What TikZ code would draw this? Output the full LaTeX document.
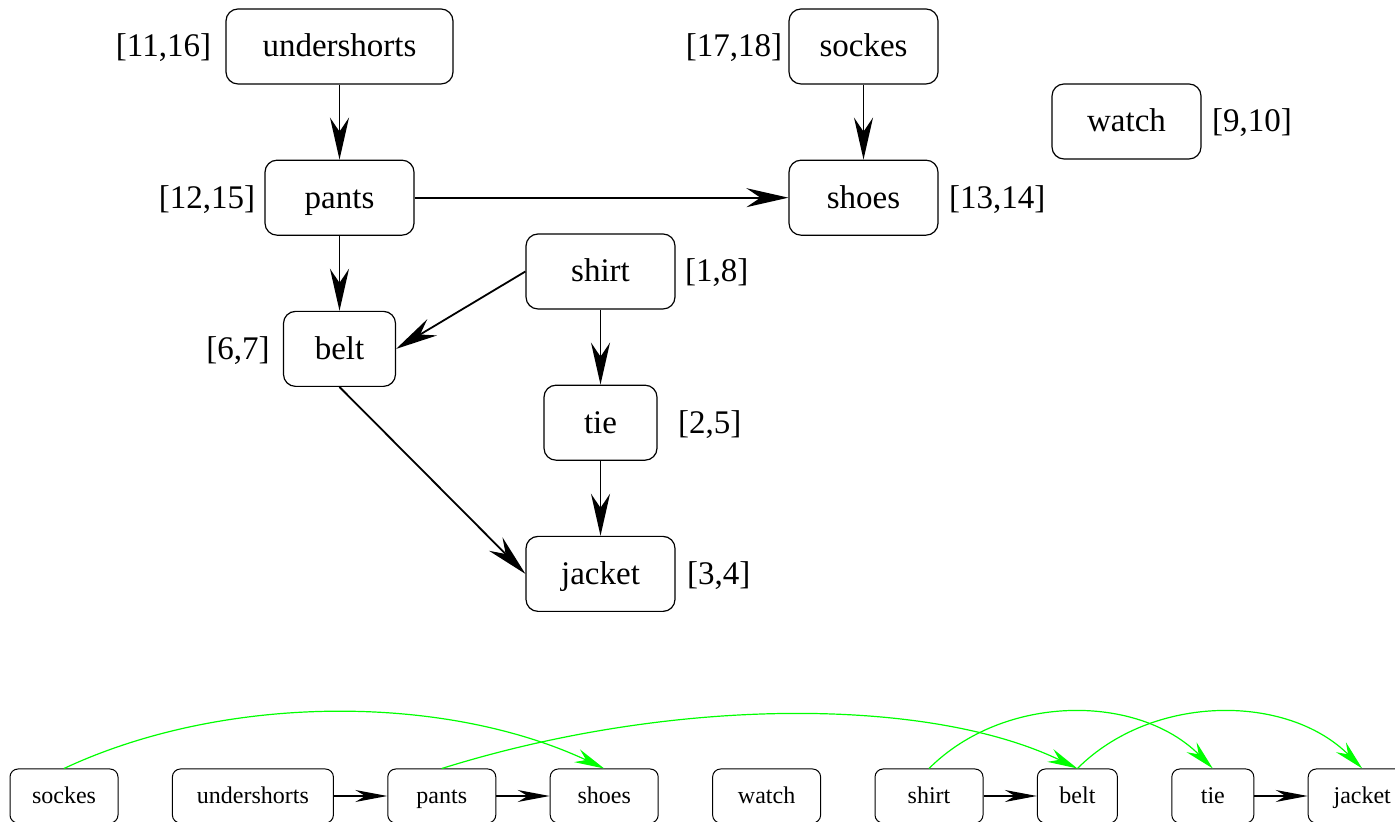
\documentclass[tikz,border=0pt]{standalone}
\usepackage{fontspec}
\setmainfont{Liberation Serif}
\usetikzlibrary{positioning,arrows.meta}

\tikzset{
  task/.style={draw,rounded corners=6pt,line width=0.6pt,inner sep=0pt,
    minimum width=74.5pt,minimum height=37.5pt,text height=12.5pt,text depth=2pt,
    font=\fontsize{16.5}{20}\selectfont},
  stamp/.style={inner sep=0pt,text height=12.5pt,text depth=2pt,
    font=\fontsize{16.5}{20}\selectfont},
  dep/.style={-{Stealth[length=21pt,width=9.5pt,inset=7pt]},line width=0.9pt},
  sorted/.style={draw,rounded corners=4pt,line width=0.5pt,inner sep=0pt,
    minimum width=54pt,minimum height=27pt,text height=9pt,text depth=1pt,
    font=\fontsize{12}{14}\selectfont},
  seq/.style={-{Stealth[length=16pt,width=6pt,inset=5pt]},line width=0.7pt},
  jump/.style={-{Stealth[length=15pt,width=7pt,inset=5pt]},line width=0.6pt,green},
}

\begin{document}
\begin{tikzpicture}[x=0.5pt,y=0.5pt,node distance=37.5pt]
    \useasboundingbox (0,0) rectangle (1395,822);
    % dressing graph with discovery/finish times
    \node[task,minimum width=113.5pt] (us) at (339.5,775.5) {undershorts};
    \node[task,below=of us] (pa) {pants};
    \node[task,below=of pa,minimum width=56pt] (be) {belt};
    \node[task] (so) at (863.5,775.5) {sockes};
    \node[task,below=of so] (sh) {shoes};
    \node[task] (wa) at (1126.5,700.5) {watch};
    \node[task] (st) at (600.5,550.5) {shirt};
    \node[task,below=of st,minimum width=56.5pt] (ti) {tie};
    \node[task,below=of ti] (ja) {jacket};
    \node[stamp,left=7pt of us] (tus) {[11,16]};
    \node[stamp,left=4.5pt of pa] (tpa) {[12,15]};
    \node[stamp,left=6.5pt of be] (tbe) {[6,7]};
    \node[stamp,left=3pt of so] (tso) {[17,18]};
    \node[stamp,right=5pt of sh] (tsh) {[13,14]};
    \node[stamp,right=5pt of wa] (twa) {[9,10]};
    \node[stamp,right=4.5pt of st] (tst) {[1,8]};
    \node[stamp,right=10pt of ti] (tti) {[2,5]};
    \node[stamp,right=5.5pt of ja] (tja) {[3,4]};
    \draw[dep] (us) -- (pa);
    \draw[dep] (so) -- (sh);
    \draw[dep] (pa) -- (sh);
    \draw[dep] (pa) -- (be);
    \draw[dep] (st.west) -- (be.east);
    \draw[dep] (st) -- (ti);
    \draw[dep] (ti) -- (ja);
    \draw[dep] (be.south) -- (ja.west);
    % topologically sorted row
    \node[sorted] (so2) at (64,26) {sockes};
    \node[sorted,right=26.7pt of so2,minimum width=80.5pt] (us2) {undershorts};
    \node[sorted,right=26.7pt of us2] (pa2) {pants};
    \node[sorted,right=26.7pt of pa2] (sh2) {shoes};
    \node[sorted,right=26.7pt of sh2] (wa2) {watch};
    \node[sorted,right=26.7pt of wa2] (st2) {shirt};
    \node[sorted,right=26.7pt of st2,minimum width=40pt] (be2) {belt};
    \node[sorted,right=26.7pt of be2,minimum width=41pt] (ti2) {tie};
    \node[sorted,right=26.7pt of ti2] (ja2) {jacket};
    \draw[seq] (us2) -- (pa2);
    \draw[seq] (pa2) -- (sh2);
    \draw[seq] (st2) -- (be2);
    \draw[seq] (ti2) -- (ja2);
    \draw[jump] (so2.north) .. controls +(160,75) and +(-160,75) .. (sh2.north);
    \draw[jump] (pa2.north) .. controls +(230,72) and +(-150,72) .. (be2.north);
    \draw[jump] (st2.north) .. controls +(75,75) and +(-75,75) .. (ti2.north);
    \draw[jump] (be2.north) .. controls +(75,75) and +(-75,75) .. (ja2.north);
\end{tikzpicture}
\end{document}
